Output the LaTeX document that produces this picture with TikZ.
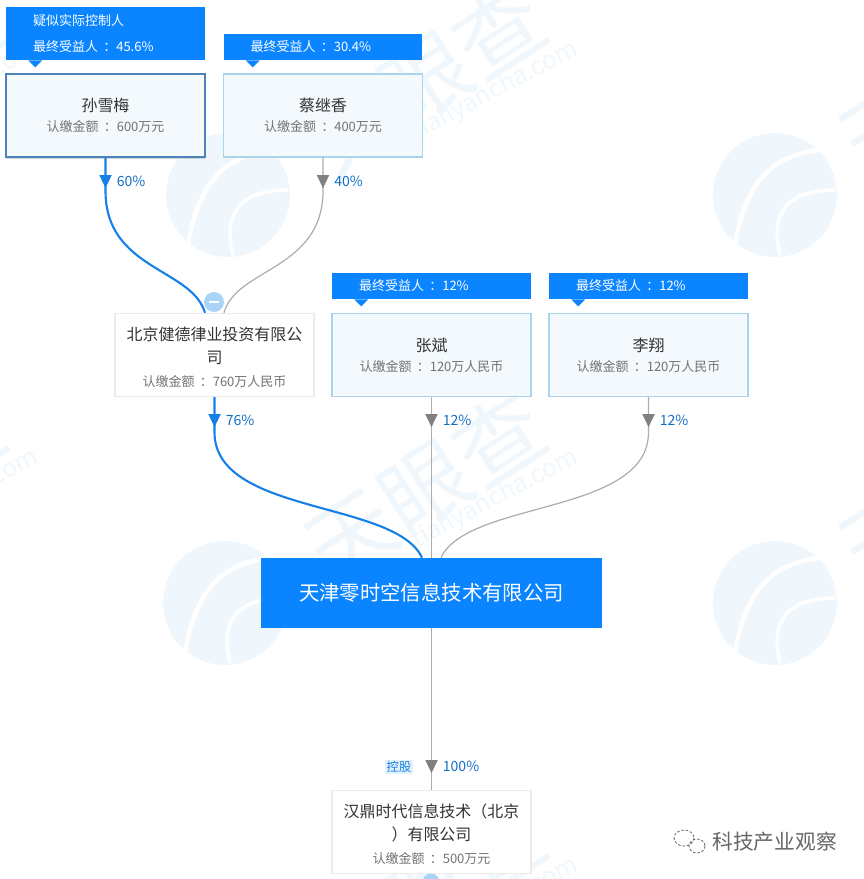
\documentclass[tikz,border=0pt]{standalone}
\usepackage{fontspec}
\setmainfont{Noto Sans CJK SC}
\usetikzlibrary{shapes.geometric,shadows}
\definecolor{tycblue}{HTML}{0A84FF}
\definecolor{linkblue}{HTML}{1580E8}
\definecolor{markwash}{HTML}{F0F7FC}
\definecolor{personline}{HTML}{A8D4EC}
\definecolor{personfill}{HTML}{F4F9FD}
\definecolor{holdfill}{HTML}{E3F1FB}
\definecolor{foldblue}{HTML}{A9D3F7}
\tikzset{
	boxbase/.style={minimum width=3.98cm,minimum height=1.66cm,align=center,inner sep=0pt,text=black!55},
	person/.style={boxbase,font=\fontsize{7.4}{11.4}\selectfont,draw=personline,line width=.8pt,fill=personfill},
	company/.style={boxbase,font=\fontsize{7.4}{13.2}\selectfont,draw=black!8,line width=.8pt,fill=white},
	badge/.style={fill=tycblue,text=white,inner xsep=.54cm,inner ysep=0pt,text width=2.9cm,align=left,font=\fontsize{7.4}{14.8}\selectfont},
	pct/.style={text=linkblue!85!black,font=\fontsize{8}{9}\selectfont,anchor=west,inner sep=0pt},
	tri/.style={isosceles triangle,isosceles triangle stretches,shape border rotate=-90,inner sep=0pt,minimum width=.25cm,minimum height=.26cm},
	blueline/.style={draw=linkblue,line width=1.2pt},
	grayline/.style={draw=black!32,line width=.7pt}
}
\newcommand{\pname}[1]{{\fontsize{9.1}{12}\selectfont\color{black!80}#1}}
\newcommand{\subscribed}[1]{认缴金额\hspace{3pt}：#1}
\newcommand{\benefit}[1]{最终受益人\hspace{3pt}：#1}
\begin{document}
\begin{tikzpicture}[x=.02cm,y=-.02cm]
	\clip (0,0) rectangle (864,879);
	\foreach \x/\y in {228/195,775/195,225/603,775/603} {
		\fill[markwash] (\x,\y) circle (62);
		\draw[white,line width=2.5pt] (\x-40,\y+50) .. controls (\x-30,\y-10) and (\x-5,\y-40) .. (\x+45,\y-45);
		\draw[white,line width=2pt] (\x+5,\y+60) .. controls (\x-5,\y+20) and (\x+10,\y-5) .. (\x+60,\y-5);
	}
	\foreach \x/\y in {425/79,425/487,425/895,-115/79,-115/487,960/79,960/487} {
		\node[rotate=33,text=markwash,font=\fontsize{50}{50}\selectfont] (mark\x\y) at (\x,\y) {天眼查};
		\node[rotate=28,text=markwash,font=\fontsize{14}{14}\selectfont] (url\x\y) at (\x+70,\y+12) {tianyancha.com};
	}
	\node[person,draw=linkblue!70!black!75,line width=1pt,drop shadow={opacity=.3,shadow xshift=0pt,shadow yshift=-1pt}] (sun) at (105.5,115.5) {\pname{孙雪梅}\\\subscribed{600万元}};
	\foreach \nd/\x/\y/\who/\amt in {cai/323/115.5/蔡继香/400万元,zhang/431.5/355/张斌/120万人民币,li/648.5/355/李翔/120万人民币} {
		\node[person] (\nd) at (\x,\y) {\pname{\who}\\\subscribed{\amt}};
	}
	\node[company] (bj) at (214.5,355) {\rule{0pt}{10pt}\pname{北京健德律业投资有限公}\\\pname{司}\\\subscribed{760万人民币}};
	\node[company] (hd) at (431.5,832) {\rule{0pt}{10pt}\pname{汉鼎时代信息技术（北京}\\\pname{）有限公司}\\\subscribed{500万元}};
	\node[fill=tycblue,text=white,minimum width=6.82cm,minimum height=1.4cm,inner sep=0pt,font=\fontsize{11.6}{14}\selectfont] (tj) at (431.5,593) {天津零时空信息技术有限公司};
	% badges
	\node[badge,minimum height=1.06cm] (bsun) at (105.5,33.5) {疑似实际控制人\\\benefit{45.6\%}};
	\foreach \nd/\x/\y/\val in {bcai/323/47/30.4\%,bzhang/431.5/286/12\%,bli/648.5/286/12\%} {
		\node[badge,minimum height=.52cm] (\nd) at (\x,\y) {\benefit{\val}};
	}
	\foreach \nd in {bsun,bcai,bzhang,bli} {
		\fill[tycblue] ([xshift=.45cm]\nd.south west) -- ++(7,7) -- ++(7,-7) -- cycle;
	}
	% connectors
	\draw[blueline] (sun.south) -- ++(0,33) .. controls (105.5,270) and (192,268) .. ([xshift=-.19cm]bj.north);
	\draw[grayline] (cai.south) -- ++(0,33) .. controls (323,270) and (236,268) .. ([xshift=.19cm]bj.north);
	\draw[blueline] (bj.south) -- ++(0,35) .. controls (214.5,515) and (395,500) .. ([xshift=-.19cm]tj.north);
	\draw[grayline] (li.south) -- ++(0,35) .. controls (648.5,515) and (468,500) .. ([xshift=.19cm]tj.north);
	\draw[grayline,line width=.9pt] (zhang.south) -- (tj.north) (tj.south) -- (hd.north);
	\foreach \nd/\x/\y/\val/\col in {t1/105.5/181/60\%/linkblue,t2/323/181/40\%/black!50,t3/214.5/420/76\%/linkblue,t4/431.5/420/12\%/black!50,t5/648.5/420/12\%/black!50,t6/431.5/766/100\%/black!50} {
		\node[tri,fill=\col] (\nd) at (\x,\y-2) {};
		\node[pct] (p\nd) at (\x+11,\y) {\val};
	}
	\node[fill=holdfill,text=linkblue,inner sep=1pt,font=\fontsize{7}{8}\selectfont] (holds) at (399,767) {控股};
	% fold buttons
	\node[circle,fill=foldblue,minimum size=.4cm,inner sep=0pt] (fold) at (214,302) {};
	\draw[white,line width=1.2pt] ([xshift=-.1cm]fold.center) -- ([xshift=.1cm]fold.center);
	\node[circle,fill=foldblue,minimum size=.34cm,inner sep=0pt] (fold2) at (431,882) {};
	% wechat mark
	\node[text=black!60,font=\fontsize{11.8}{14}\selectfont,anchor=west,inner sep=0pt] (wx) at (712,842) {科技产业观察};
	\draw[black!55,dash pattern=on 1.5pt off 1pt,line width=.5pt] (684,838) ellipse (10 and 8) (697,846) ellipse (8 and 7);
\end{tikzpicture}
\end{document}
